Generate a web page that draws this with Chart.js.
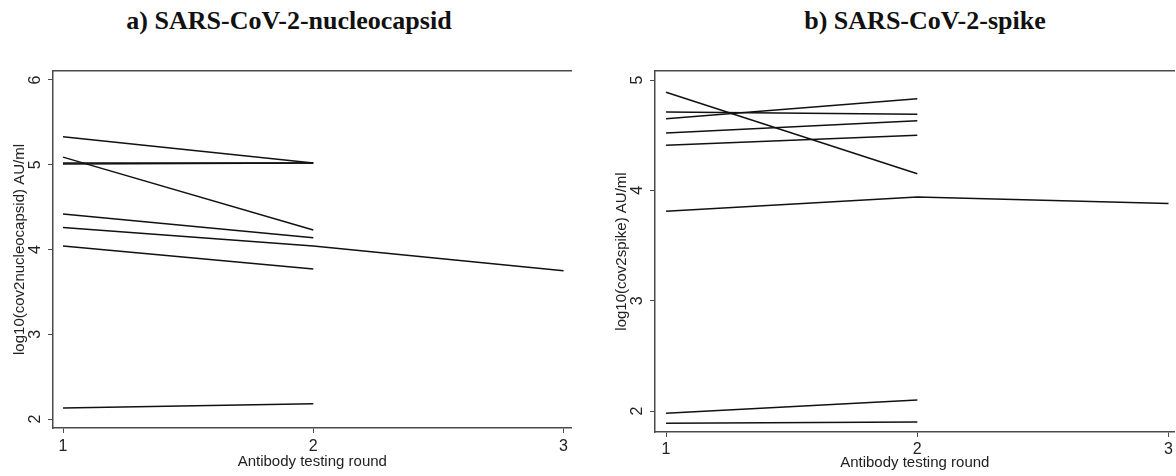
<!DOCTYPE html>
<html>
<head>
<meta charset="utf-8">
<script src="https://cdn.jsdelivr.net/npm/chart.js@4.4.1/dist/chart.umd.min.js"></script>
<style>
  body { margin: 0; background: #fff; }
  #wrap { position: relative; width: 1176px; height: 476px; overflow: hidden; }
  canvas { position: absolute; top: 0; }
  .ttl { position: absolute; top: 6px; transform: translateX(-50%); white-space: nowrap;
         font: bold 26px "Liberation Serif", "Times New Roman", serif; color: #111; }
</style>
</head>
<body>
<div id="wrap">
  <div class="ttl" style="left:289px">a) SARS-CoV-2-nucleocapsid</div>
  <div class="ttl" style="left:925px">b) SARS-CoV-2-spike</div>
  <canvas id="nuc" width="572" height="476" style="left:0"></canvas>
  <canvas id="spk" width="574" height="476" style="left:602px"></canvas>
</div>
<script>
// testing rounds (x)
const rounds = [1, 2, 3];
const xTicks = [1, 2, 3];

// log10 nucleocapsid AU/ml, one row per person, values by round
const nucleocapsid = [
  [5.33, 5.02],
  [5.09, 4.23],
  [5.02, 5.02],
  [5.01, 5.02],
  [4.42, 4.14],
  [4.26, 4.04, 3.75],
  [4.04, 3.77],
  [2.13, 2.18]
];
const nucTicks = [2, 3, 4, 5, 6];

// log10 spike AU/ml
const spike = [
  [4.89, 4.15],
  [4.71, 4.69],
  [4.65, 4.83],
  [4.52, 4.63],
  [4.41, 4.50],
  [3.81, 3.94, 3.88],
  [1.98, 2.10],
  [1.89, 1.90]
];
const spkTicks = [2, 3, 4, 5];

const axisCol = '#4a4a4a';
const font15 = { family: 'Liberation Sans, Arial, sans-serif', size: 15 };
const font16 = { family: 'Liberation Sans, Arial, sans-serif', size: 16 };

// y tick labels are drawn turned like in the original (Stata style)
const turnedTicks = {
  id: 'turnedTicks',
  afterDraw(chart) {
    const s = chart.scales.y;
    const ctx = chart.ctx;
    ctx.save();
    ctx.fillStyle = '#222';
    ctx.font = '16px Liberation Sans, Arial, sans-serif';
    ctx.textAlign = 'center';
    ctx.textBaseline = 'middle';
    s.ticks.forEach(t => {
      const y = s.getPixelForValue(t.value);
      ctx.save();
      ctx.translate(s.right - 17, y);
      ctx.rotate(-Math.PI / 2);
      ctx.fillText(String(t.value), 0, 0);
      ctx.restore();
    });
    ctx.restore();
  }
};

function makeChart(id, rows, yTicks, o) {
  const datasets = rows.map(vals => ({
    data: vals.map((v, i) => ({ x: rounds[i], y: v })),
    borderColor: '#111',
    borderWidth: 1.5,
    pointRadius: 0,
    fill: false,
    tension: 0
  }));
  return new Chart(document.getElementById(id), {
    type: 'line',
    data: { datasets: datasets },
    plugins: [turnedTicks],
    options: {
      responsive: false,
      animation: false,
      devicePixelRatio: 1,
      layout: { padding: { top: 71, left: 0, right: 0, bottom: 0 } },
      plugins: { legend: { display: false }, tooltip: { enabled: false } },
      scales: {
        x: {
          type: 'linear', position: 'bottom',
          min: o.xmin, max: o.xmax,
          afterBuildTicks: s => { s.ticks = xTicks.map(v => ({ value: v })); },
          afterFit: s => { s.height = o.xh; },
          grid: { drawOnChartArea: false, drawTicks: true, tickLength: 5, color: axisCol, lineWidth: 1 },
          border: { display: true, color: axisCol, width: 1.5 },
          ticks: { font: font16, color: '#222', padding: o.tpad, maxRotation: 0 },
          title: { display: true, text: 'Antibody testing round', font: font15, color: '#222',
                   padding: { top: 0, bottom: o.tbot } }
        },
        x2: {
          type: 'linear', position: 'top', min: 0, max: 1,
          afterFit: s => { s.height = 0; },
          grid: { display: false },
          ticks: { display: false },
          border: { display: true, color: axisCol, width: 1.5 }
        },
        y: {
          type: 'linear', position: 'left',
          min: o.ymin, max: o.ymax,
          afterBuildTicks: s => { s.ticks = yTicks.map(v => ({ value: v })); },
          afterFit: s => { s.width = 53; },
          grid: { drawOnChartArea: false, drawTicks: true, tickLength: 5, color: axisCol, lineWidth: 1 },
          border: { display: true, color: axisCol, width: 1.5 },
          ticks: { display: false },
          title: { display: true, text: o.ytitle, font: font15, color: '#222',
                   padding: { top: 11, bottom: 0 } }
        }
      }
    }
  });
}

makeChart('nuc', nucleocapsid, nucTicks, {
  xmin: 0.96, xmax: 3.032, ymin: 1.894, ymax: 6.106,
  xh: 48, tpad: 4, tbot: 5, ytitle: 'log10(cov2nucleocapsid) AU/ml'
});
makeChart('spk', spike, spkTicks, {
  xmin: 0.956, xmax: 3.024, ymin: 1.81, ymax: 5.082,
  xh: 44, tpad: 3, tbot: 4, ytitle: 'log10(cov2spike) AU/ml'
});
</script>
</body>
</html>
